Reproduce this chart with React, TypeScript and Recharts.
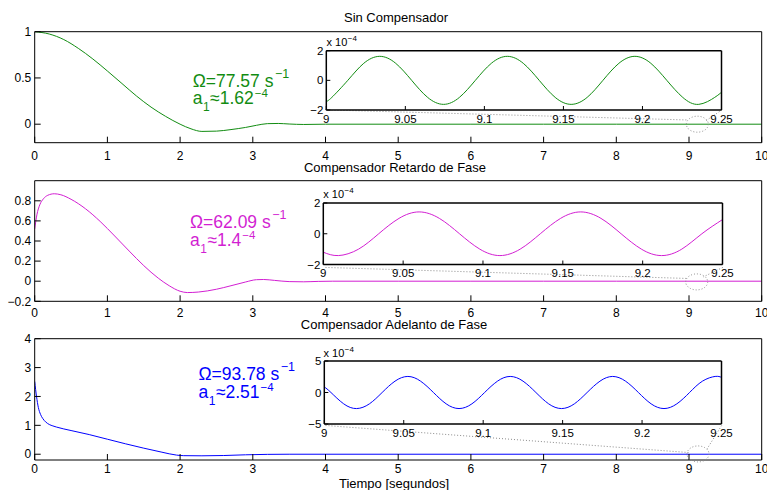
import React from 'react';
import { LineChart, Line, XAxis, YAxis, ReferenceLine, ReferenceDot, CartesianGrid } from 'recharts';

const W = 767;
const H = 490;
const FONT = '"Liberation Sans", Arial, Helvetica, sans-serif';

// ---- main responses (time in s, amplitude) ----
const tSin = [0, 0.2, 0.4, 0.6, 0.8, 1.0, 1.2, 1.4, 1.6, 1.8, 2.0, 2.15, 2.3, 2.5, 2.7, 2.9, 3.05, 3.2, 3.35, 3.5, 3.7, 4.0, 5, 6, 7, 8, 9, 10];
const ySin = [1.0, 0.975, 0.915, 0.82, 0.705, 0.575, 0.44, 0.305, 0.185, 0.085, 0.0, -0.05, -0.078, -0.075, -0.058, -0.035, -0.012, 0.006, 0.008, 0.002, -0.003, 0, 0, 0, 0, 0, 0, 0];

const tRet = [0, 0.03, 0.07, 0.12, 0.18, 0.27, 0.36, 0.5, 0.7, 0.9, 1.1, 1.3, 1.5, 1.7, 1.85, 2.0, 2.1, 2.25, 2.5, 2.7, 2.9, 3.05, 3.15, 3.3, 3.5, 3.7, 3.9, 4.1, 5, 6, 7, 8, 9, 10];
const yRet = [0.52, 0.66, 0.76, 0.82, 0.855, 0.87, 0.86, 0.815, 0.72, 0.595, 0.45, 0.3, 0.155, 0.03, -0.045, -0.1, -0.113, -0.108, -0.08, -0.045, -0.008, 0.015, 0.017, 0.008, -0.004, -0.006, -0.002, 0, 0, 0, 0, 0, 0, 0];

const tAde = [0, 0.025, 0.05, 0.08, 0.11, 0.15, 0.2, 0.25, 0.3, 0.5, 0.75, 1.0, 1.25, 1.5, 1.75, 1.95, 2.05, 2.3, 2.6, 2.9, 3.2, 3.5, 4, 5, 6, 7, 8, 9, 10];
const yAde = [2.52, 2.0, 1.62, 1.38, 1.24, 1.12, 1.03, 0.98, 0.94, 0.82, 0.68, 0.52, 0.36, 0.21, 0.07, -0.03, -0.05, -0.055, -0.045, -0.02, -0.005, 0, 0, 0, 0, 0, 0, 0, 0];

// ---- zoomed residual oscillation (values x 1e-4) ----
const zSinT = [9.0, 9.0035, 9.0136, 9.0237, 9.0338, 9.0439, 9.054, 9.0641, 9.0742, 9.0842, 9.0943, 9.1044, 9.1145, 9.1246, 9.1347, 9.1448, 9.1549, 9.165, 9.175, 9.1851, 9.1952, 9.2053, 9.2154, 9.2255, 9.2356, 9.2457, 9.25];
const zSinV = [-1.42, -1.15, 0, 1.15, 1.62, 1.15, 0, -1.15, -1.62, -1.15, 0, 1.15, 1.62, 1.15, 0, -1.15, -1.62, -1.15, 0, 1.15, 1.62, 1.15, 0, -1.15, -1.62, -1.15, -0.8];

const zRetT = [9.0, 9.0094, 9.0221, 9.0347, 9.0474, 9.06, 9.0727, 9.0853, 9.098, 9.1106, 9.1233, 9.1359, 9.1486, 9.1612, 9.1739, 9.1865, 9.1992, 9.2118, 9.2245, 9.2371, 9.25];
const zRetV = [-1.2, -1.42, -1.0, 0, 1.0, 1.42, 1.0, 0, -1.0, -1.42, -1.0, 0, 1.0, 1.42, 1.0, 0, -1.0, -1.42, -1.0, 0, 0.92];

const zAdeT = [9.0, 9.0042, 9.0122, 9.0203, 9.0284, 9.0364, 9.0445, 9.0526, 9.0606, 9.0687, 9.0767, 9.0848, 9.0929, 9.1009, 9.109, 9.117, 9.1251, 9.1332, 9.1412, 9.1493, 9.1574, 9.1654, 9.1735, 9.1815, 9.1896, 9.1977, 9.2057, 9.2138, 9.2219, 9.2299, 9.238, 9.246, 9.25];
const zAdeV = [0.9, 0, -1.8, -2.55, -1.8, 0, 1.8, 2.55, 1.8, 0, -1.8, -2.55, -1.8, 0, 1.8, 2.55, 1.8, 0, -1.8, -2.55, -1.8, 0, 1.8, 2.55, 1.8, 0, -1.8, -2.55, -1.8, 0, 1.8, 2.55, 2.4];

// ---- ticks & labels ----
const mainXTicks = [0, 1, 2, 3, 4, 5, 6, 7, 8, 9, 10];
const ticksSin = [0, 0.5, 1];
const ticksRet = [-0.2, 0, 0.2, 0.4, 0.6, 0.8];
const ticksAde = [0, 1, 2, 3, 4];
const zoomXTicks = [9, 9.05, 9.1, 9.15, 9.2, 9.25];
const zoomTicksSin = [-2, 0, 2];
const zoomTicksRet = [-2, 0, 2];
const zoomTicksAde = [-5, 0, 5];

const titles = ['Sin Compensador', 'Compensador Retardo de Fase', 'Compensador Adelanto de Fase'];
const omegas = ['77.57', '62.09', '93.78'];
const amps = ['1.62', '1.4', '2.51'];
const xLabel = 'Tiempo [segundos]';

// dotted zoom guides in main-axis data coordinates
const guidesSin = [[[4.0, 0.155], [8.97, 0.046]], [[9.454, 0.155], [9.23, 0.036]]];
const guidesRet = [[[4.0, 0.137], [8.99, 0.027]], [[9.464, 0.137], [9.197, 0.043]]];
const guidesAde = [[[4.0, 0.996], [9.013, 0.055]], [[9.45, 0.996], [9.248, 0.183]]];
const ringSin = [9.115, 0.0];
const ringRet = [9.106, -0.007];
const ringAde = [9.124, 0.01];

const zip = (ts: number[], vs: number[]) => ts.map((t, i) => ({ t, v: vs[i] }));
const fmt = (v: number) => (v < 0 ? '\u2212' + String(Math.abs(v)) : String(v));

type Box = { l: number; t: number; r: number; b: number };

type PlotProps = {
  data: { t: number; v: number }[];
  color: string;
  box: Box;
  xDomain: [number, number];
  xTicks: number[];
  yDomain: [number, number];
  yTicks: number[];
  tickLen: number;
  xGap: number;
  yGap: number;
  frame: number;
  fontSize: number;
  guides?: number[][][];
  ring?: number[];
  bg?: boolean;
};

function Plot(p: PlotProps) {
  const YW = 30;
  const BH = 30;
  const TH = 1;
  const RW = 1;
  const margin = { left: p.box.l - YW, right: W - p.box.r - RW, top: p.box.t - TH, bottom: H - p.box.b - BH };
  const tickStyle = { fill: '#000', fontSize: p.fontSize, fontFamily: FONT };
  const ax = { stroke: '#000', strokeWidth: p.frame };
  const tl = { stroke: '#000', strokeWidth: 1 };
  return (
    <div style={{ position: 'absolute', left: 0, top: 0, width: W, height: H, pointerEvents: 'none' }}>
      <LineChart width={W} height={H} margin={margin}>
        {p.bg && <CartesianGrid xAxisId="b" yAxisId="l" horizontal={false} vertical={false} fill="#fff" fillOpacity={1} />}
        <XAxis xAxisId="b" dataKey="t" type="number" orientation="bottom" domain={p.xDomain} ticks={p.xTicks} interval={0}
          allowDataOverflow height={BH} tickSize={-p.tickLen} tickMargin={p.tickLen + p.xGap} axisLine={ax} tickLine={tl}
          tick={tickStyle} tickFormatter={fmt} />
        <XAxis xAxisId="t" dataKey="t" type="number" orientation="top" domain={p.xDomain} ticks={p.xTicks} interval={0}
          allowDataOverflow height={TH} tickSize={-p.tickLen} axisLine={ax} tickLine={tl} tick={false} />
        <YAxis yAxisId="l" type="number" orientation="left" domain={p.yDomain} ticks={p.yTicks} interval={0}
          allowDataOverflow width={YW} tickSize={-p.tickLen} tickMargin={p.tickLen + p.yGap} axisLine={ax} tickLine={tl}
          tick={tickStyle} tickFormatter={fmt} />
        <YAxis yAxisId="r" type="number" orientation="right" domain={p.yDomain} ticks={p.yTicks} interval={0}
          allowDataOverflow width={RW} tickSize={-p.tickLen} axisLine={ax} tickLine={tl} tick={false} />
        {(p.guides || []).map((g, i) => (
          <ReferenceLine key={i} xAxisId="b" yAxisId="l" ifOverflow="visible"
            segment={[{ x: g[0][0], y: g[0][1] }, { x: g[1][0], y: g[1][1] }]}
            stroke="#8c8c8c" strokeWidth={1} strokeDasharray="1 2" />
        ))}
        {p.ring && (
          <ReferenceDot xAxisId="b" yAxisId="l" x={p.ring[0]} y={p.ring[1]} ifOverflow="visible"
            shape={(s: any) => (
              <ellipse cx={s.cx} cy={s.cy} rx={11} ry={8} fill="none" stroke="#8c8c8c" strokeWidth={1} strokeDasharray="1 2" />
            )} />
        )}
        <Line xAxisId="b" yAxisId="l" data={p.data} dataKey="v" type={p.bg ? 'natural' : 'monotone'} stroke={p.color}
          strokeWidth={1} dot={false} activeDot={false} isAnimationActive={false} />
        <Line xAxisId="t" yAxisId="r" data={p.data} dataKey="v" type="linear" stroke="none"
          dot={false} activeDot={false} isAnimationActive={false} />
      </LineChart>
    </div>
  );
}

const GREEN = '#128c12';
const MAGENTA = '#d21fd2';
const BLUE = '#0000ff';

function Note({ x, y1, y2, color, om, amp }: { x: number; y1: number; y2: number; color: string; om: string; amp: string }) {
  return (
    <g fill={color} fontFamily={FONT} fontSize={17.5}>
      <text x={x} y={y1}>
        {'\u03A9=' + om + ' s'}
        <tspan fontSize={12.5} dx={1.5} dy={-9}>{'\u22121'}</tspan>
      </text>
      <text x={x} y={y2}>
        a<tspan fontSize={12} dx={0.5} dy={7}>1</tspan>
        <tspan dx={0.5} dy={-7}>{'\u2248' + amp}</tspan>
        <tspan fontSize={11.5} dx={1} dy={-6.5}>{'\u22124'}</tspan>
      </text>
    </g>
  );
}

function Scale({ x, y }: { x: number; y: number }) {
  return (
    <text x={x} y={y} fontFamily={FONT} fontSize={11} fill="#000">
      x 10<tspan fontSize={8} dx={0.5} dy={-5}>{'\u22124'}</tspan>
    </text>
  );
}

const mainBox1: Box = { l: 34.7, t: 31.7, r: 761.7, b: 142.7 };
const mainBox2: Box = { l: 34.7, t: 180.7, r: 761.7, b: 301.3 };
const mainBox3: Box = { l: 34.7, t: 338.7, r: 761.7, b: 460 };
const insetBox1: Box = { l: 326.3, t: 50.7, r: 721.5, b: 110 };
const insetBox2: Box = { l: 323.3, t: 203, r: 722.5, b: 264.5 };
const insetBox3: Box = { l: 324.3, t: 361, r: 721.5, b: 424 };

export default function App() {
  const mainCommon = { xDomain: [0, 10] as [number, number], xTicks: mainXTicks, tickLen: 6, yGap: 3.5, frame: 1, fontSize: 12 };
  const insetCommon = { xDomain: [9, 9.25] as [number, number], xTicks: zoomXTicks, tickLen: 4, yGap: 3, xGap: 4.5, frame: 1.5, fontSize: 11.5, bg: true };
  return (
    <div style={{ position: 'absolute', left: 0, top: 0, width: W, height: H, background: '#fff', overflow: 'hidden', fontFamily: FONT }}>
      <Plot {...mainCommon} data={zip(tSin, ySin)} color={GREEN} box={mainBox1} yDomain={[-0.2, 1]} yTicks={ticksSin} xGap={8.5} guides={guidesSin} ring={ringSin} />
      <Plot {...mainCommon} data={zip(tRet, yRet)} color={MAGENTA} box={mainBox2} yDomain={[-0.2, 1]} yTicks={ticksRet} xGap={7.5} guides={guidesRet} ring={ringRet} />
      <Plot {...mainCommon} data={zip(tAde, yAde)} color={BLUE} box={mainBox3} yDomain={[-0.2, 4]} yTicks={ticksAde} xGap={4.5} guides={guidesAde} ring={ringAde} />
      <Plot {...insetCommon} data={zip(zSinT, zSinV)} color={GREEN} box={insetBox1} yDomain={[-2, 2]} yTicks={zoomTicksSin} />
      <Plot {...insetCommon} data={zip(zRetT, zRetV)} color={MAGENTA} box={insetBox2} yDomain={[-2, 2]} yTicks={zoomTicksRet} />
      <Plot {...insetCommon} data={zip(zAdeT, zAdeV)} color={BLUE} box={insetBox3} yDomain={[-5, 5]} yTicks={zoomTicksAde} />
      <svg width={W} height={H} style={{ position: 'absolute', left: 0, top: 0, pointerEvents: 'none' }}>
        <g fontFamily={FONT} fontSize={13} fill="#000" textAnchor="middle">
          <text x={396} y={21.5}>{titles[0]}</text>
          <text x={395} y={171.5}>{titles[1]}</text>
          <text x={394} y={329}>{titles[2]}</text>
          <text x={394} y={488}>{xLabel}</text>
        </g>
        <Note x={192.7} y1={87} y2={103.5} color={GREEN} om={omegas[0]} amp={amps[0]} />
        <Note x={190} y1={228.3} y2={245.5} color={MAGENTA} om={omegas[1]} amp={amps[1]} />
        <Note x={198.5} y1={379.5} y2={397.5} color={BLUE} om={omegas[2]} amp={amps[2]} />
        <Scale x={326.5} y={46} />
        <Scale x={323.3} y={197.5} />
        <Scale x={323.5} y={356.5} />
      </svg>
    </div>
  );
}
